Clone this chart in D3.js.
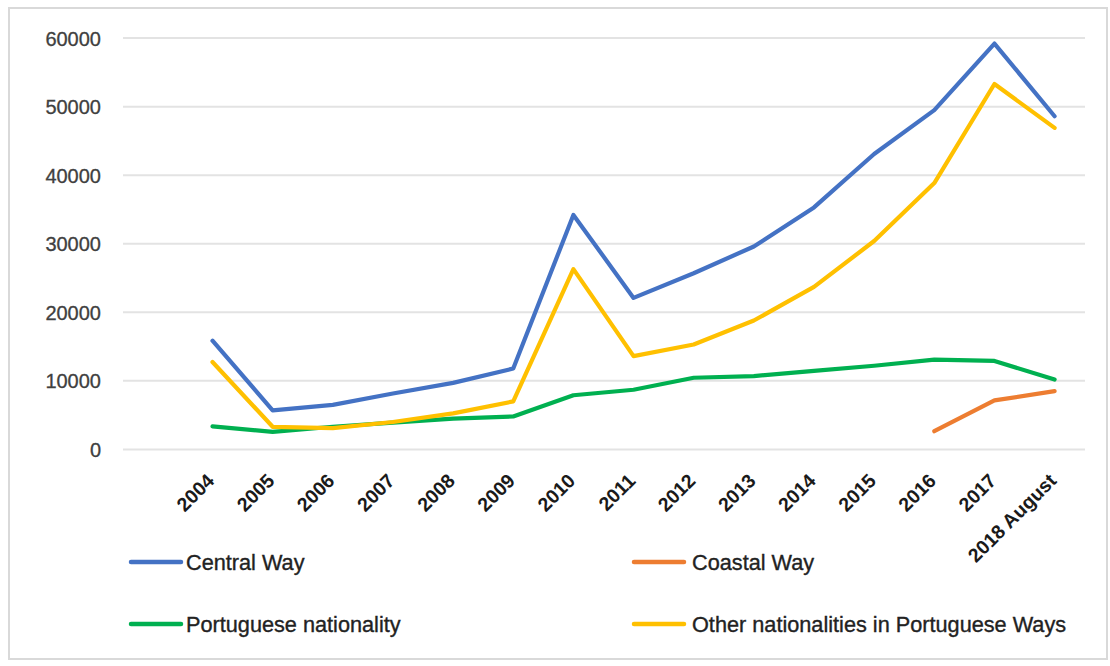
<!DOCTYPE html>
<html>
<head>
<meta charset="utf-8">
<script src="https://cdn.jsdelivr.net/npm/d3@7/dist/d3.min.js"></script>
<style>
  html, body { margin: 0; padding: 0; background: #fff; }
  svg { display: block; }
</style>
</head>
<body>
<svg id="chart" width="1110" height="666"></svg>
<script>
const categories = ["2004","2005","2006","2007","2008","2009","2010","2011","2012","2013","2014","2015","2016","2017","2018 August"];
const centralWay = [15850, 5700, 6500, 8150, 9700, 11800, 34200, 22100, 25700, 29600, 35300, 43100, 49500, 59200, 48600];
const coastalWay = [null, null, null, null, null, null, null, null, null, null, null, null, 2650, 7150, 8500];
const portugueseNationality = [3350, 2550, 3300, 3900, 4500, 4800, 7900, 8700, 10450, 10700, 11450, 12200, 13100, 12900, 10200];
const otherNationalities = [12750, 3300, 3100, 4000, 5250, 7000, 26300, 13600, 15300, 18800, 23700, 30400, 38850, 53300, 46900];
const yTicks = [0, 10000, 20000, 30000, 40000, 50000, 60000];

const seriesList = [
  { name: "Central Way", values: centralWay, color: "#4472C4" },
  { name: "Coastal Way", values: coastalWay, color: "#ED7D31" },
  { name: "Portuguese nationality", values: portugueseNationality, color: "#00B050" },
  { name: "Other nationalities in Portuguese Ways", values: otherNationalities, color: "#FFC000" }
];

const svg = d3.select("#chart");
const font = "'Liberation Sans', Arial, sans-serif";

// outer frame
svg.append("rect").attr("x", 9).attr("y", 8).attr("width", 1098).attr("height", 651)
  .attr("fill", "#fff").attr("stroke", "#d9d9d9").attr("stroke-width", 2);

const plotLeft = 123, plotRight = 1085;
const x = d3.scalePoint().domain(categories).range([212.5, 1054.6]);
const y = d3.scaleLinear().domain([0, 60000]).range([449.4, 38.1]);

// gridlines
svg.append("g").selectAll("line").data(yTicks).join("line")
  .attr("x1", plotLeft).attr("x2", plotRight)
  .attr("y1", d => y(d)).attr("y2", d => y(d))
  .attr("stroke", "#e3e3e3").attr("stroke-width", 2);

// y axis labels
const yAxis = d3.axisLeft(y).tickValues(yTicks).tickSize(0).tickPadding(0).tickFormat(d3.format("d"));
const yg = svg.append("g").attr("transform", "translate(101,0)").call(yAxis);
yg.select(".domain").remove();
yg.selectAll("text").attr("font-family", font).attr("font-size", 20)
  .attr("fill", "#404040").attr("stroke", "#404040").attr("stroke-width", 0.3)
  .attr("dy", "0.35em");

// x axis labels
const xAxis = d3.axisBottom(x).tickSize(0).tickPadding(0);
const xg = svg.append("g").call(xAxis);
xg.select(".domain").remove();
xg.selectAll(".tick").attr("transform", d => `translate(${x(d) + 3},482)`);
xg.selectAll("text")
  .attr("font-family", font).attr("font-size", 19.5).attr("font-weight", "bold")
  .attr("fill", "#1a1a1a")
  .attr("text-anchor", "end").attr("x", 0).attr("y", 0).attr("dy", 0)
  .attr("transform", "rotate(-45)");

// lines
const line = d3.line()
  .defined(d => d.v !== null)
  .x(d => x(d.c)).y(d => y(d.v));

svg.append("g").selectAll("path").data(seriesList).join("path")
  .attr("d", s => line(s.values.map((v, i) => ({ c: categories[i], v }))))
  .attr("fill", "none").attr("stroke", s => s.color)
  .attr("stroke-width", 4.2).attr("stroke-linejoin", "round").attr("stroke-linecap", "round");

// legend
const legendPos = [
  { lx: 131, ly: 562 },
  { lx: 634, ly: 562 },
  { lx: 131, ly: 624 },
  { lx: 634, ly: 624 }
];
const lg = svg.append("g").selectAll("g").data(seriesList).join("g")
  .attr("transform", (d, i) => `translate(${legendPos[i].lx},${legendPos[i].ly})`);
lg.append("line").attr("x1", 0).attr("x2", 50).attr("y1", 0).attr("y2", 0)
  .attr("stroke", d => d.color).attr("stroke-width", 4.5).attr("stroke-linecap", "round");
lg.append("text").attr("x", (d, i) => i % 2 === 0 ? 55 : 58).attr("y", 8)
  .attr("font-family", font).attr("font-size", 21.7)
  .attr("fill", "#222").attr("stroke", "#222").attr("stroke-width", 0.35)
  .text(d => d.name);
</script>
</body>
</html>
